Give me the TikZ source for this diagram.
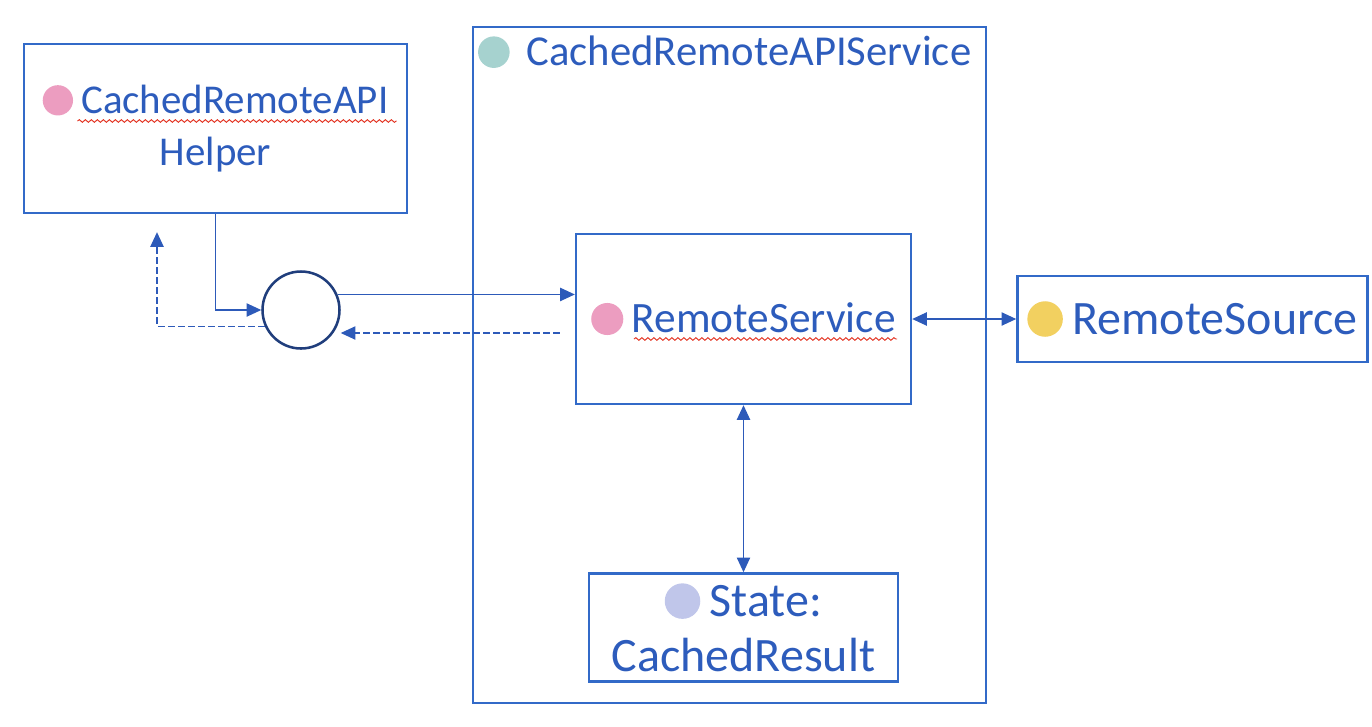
\documentclass[tikz,border=0pt]{standalone}
\usepackage{fontspec}
\setmainfont{Carlito}
\usepackage{tikz}
\usetikzlibrary{arrows.meta,calc,positioning,decorations.pathmorphing}

\definecolor{boxblue}{RGB}{50,106,200}
\definecolor{txtblue}{RGB}{45,92,188}
\definecolor{lineblue}{RGB}{45,90,185}
\definecolor{hubnavy}{RGB}{32,62,124}
\definecolor{dotpink}{RGB}{236,157,192}
\definecolor{dotteal}{RGB}{166,210,207}
\definecolor{dotyellow}{RGB}{242,208,96}
\definecolor{dotlilac}{RGB}{192,198,234}
\definecolor{squigred}{RGB}{226,48,30}

\newcommand{\bulletdot}[1]{\tikz[baseline=-0.32em]\fill[#1] (0,0) circle (0.37em);}

\begin{document}
\begin{tikzpicture}[x=0.75pt,y=-0.75pt,>={Triangle[length=11pt,width=10pt]}]
	\tikzstyle{block} = [draw=boxblue, line width=1.8pt, rectangle, text=txtblue, align=center, inner sep=0pt]
	\tikzstyle{link} = [draw=lineblue, line width=0.9pt]
	\tikzstyle{back} = [dash pattern=on 5pt off 2.5pt]
	\tikzstyle{squiggle} = [draw=squigred, line width=0.7pt, decorate, decoration={snake, segment length=4.5pt, amplitude=1pt}]

	\useasboundingbox (0,0) rectangle (1372,726);

	\node [block, minimum width=384.75pt, minimum height=507pt] (svc) at (729.5,365) {};
	\node [anchor=base west, inner sep=0pt, text=txtblue, font=\fontsize{32}{38}\selectfont] (svctitle) at ($(svc.north west)+(6,40)$) {\bulletdot{dotteal}\hspace{0.4em}CachedRemoteAPIService};

	\node [block, minimum width=287.25pt, minimum height=126.75pt, font=\fontsize{30.7}{39}\selectfont] (helper) at (215.5,128.5) {\bulletdot{dotpink}\hspace{0.2em}CachedRemoteAPI\\Helper};

	\node [draw=hubnavy, line width=1.9pt, circle, minimum size=57.75pt, inner sep=0pt] (hub) at (301,310) {};

	\node [block, minimum width=251.25pt, minimum height=127.5pt, font=\fontsize{32.5}{38}\selectfont] (rsvc) at (743.5,319) {\bulletdot{dotpink}\hspace{0.2em}RemoteService};

	\node [block, minimum width=262.5pt, minimum height=64.5pt, right = 78pt of rsvc, font=\fontsize{36}{42}\selectfont] (rsrc) {\bulletdot{dotyellow}\hspace{0.2em}RemoteSource};

	\node [block, minimum width=231.75pt, minimum height=81pt, below = 125.25pt of rsvc, font=\fontsize{36}{41}\selectfont] (state) {\bulletdot{dotlilac}\hspace{0.2em}State:\\CachedResult};

	\coordinate (rsback) at ($(rsvc.west)+(-15,14)$);
	\coordinate (helperin) at ($(helper.south)+(-58.5,18)$);

	\draw [link, ->] (helper.south) |- (hub.west);
	\draw [link, ->] (hub.23) -- (hub.23 -| rsvc.west);
	\draw [link, back, ->] (rsback) -- (rsback -| hub.east);
	\draw [link, back, ->] (hub.204) -| (helperin);
	\draw [link, <->] (rsvc.east) -- (rsrc.west);
	\draw [link, <->] (rsvc.south) -- (state.north);

	\draw [squiggle] ($(helper.center)+(-138,-7.5)$) -- ++(319,0);
	\draw [squiggle] ($(rsvc.center)+(-109.5,20)$) -- ++(263,0);
\end{tikzpicture}
\end{document}
